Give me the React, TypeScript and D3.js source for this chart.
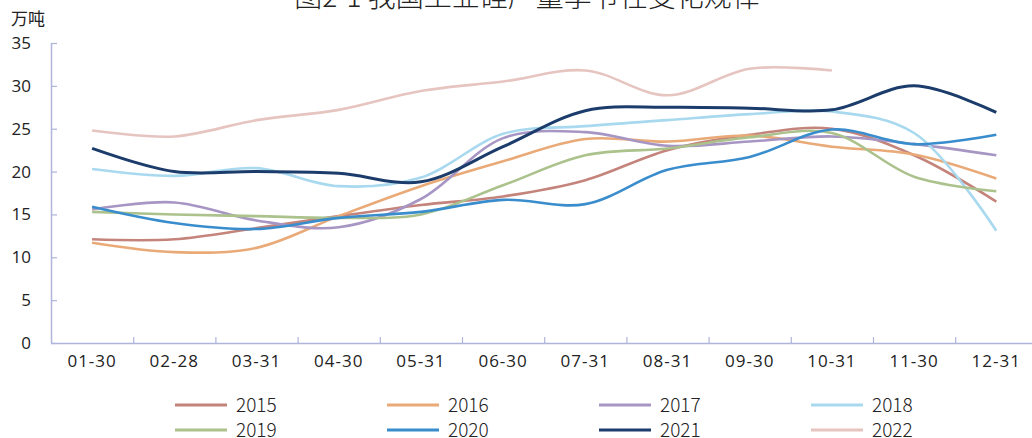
import * as d3 from "d3"

const categories = ["01-30", "02-28", "03-31", "04-30", "05-31", "06-30", "07-31", "08-31", "09-30", "10-31", "11-30", "12-31"]
const yTicks = [0, 5, 10, 15, 20, 25, 30, 35]
const years = ["2015", "2016", "2017", "2018", "2019", "2020", "2021", "2022"]
const colors = ["#c4847b", "#e9aa78", "#a796c4", "#a8d9ef", "#abc28c", "#3a8dcd", "#1c3d6c", "#e6c4c0"]

const v2015 = [12.1, 12.1, 13.4, 14.8, 16.1, 17.1, 19.0, 22.5, 24.3, 25.0, 21.9, 16.5]
const v2016 = [11.7, 10.6, 11.1, 14.8, 18.3, 21.2, 23.8, 23.5, 24.2, 22.9, 22.0, 19.2]
const v2017 = [15.6, 16.4, 14.3, 13.5, 16.8, 23.9, 24.6, 23.0, 23.5, 24.1, 23.2, 21.9]
const v2018 = [20.3, 19.5, 20.4, 18.3, 19.3, 24.4, 25.3, 26.0, 26.7, 27.0, 24.5, 13.1]
const v2019 = [15.3, 15.0, 14.8, 14.6, 15.0, 18.4, 21.9, 22.7, 24.0, 24.5, 19.4, 17.7]
const v2020 = [15.9, 14.0, 13.3, 14.6, 15.3, 16.7, 16.2, 20.2, 21.7, 24.9, 23.2, 24.3]
const v2021 = [22.7, 20.0, 20.0, 19.8, 18.8, 22.9, 27.1, 27.5, 27.4, 27.2, 30.0, 26.9]
const v2022 = [24.8, 24.1, 26.0, 27.2, 29.4, 30.5, 31.8, 28.9, 32.0, 31.8, null, null]

const series = [v2015, v2016, v2017, v2018, v2019, v2020, v2021, v2022]

const width = 1032
const height = 438
const cjk = "'Noto Sans CJK SC', 'Noto Sans', sans-serif"
const num = "'Open Sans', 'Noto Sans', sans-serif"
const axisColor = "#aeb4da"

export default function App() {
  const x = d3.scaleBand().domain(categories).range([51, 51 + 12 * 82.2]).padding(0)
  const y = d3.scaleLinear().domain([0, 35]).range([343, 43])
  const cx = (c: string) => (x(c) as number) + x.bandwidth() / 2

  const line = d3
    .line<number | null>()
    .defined((d) => d != null)
    .x((_, i) => cx(categories[i]))
    .y((d) => y(d as number))
    .curve(d3.curveCatmullRom.alpha(0.5))

  return (
    <svg width={width} height={height} style={{ position: "absolute", left: 0, top: 0, background: "#fff" }} fontFamily={cjk}>
      {/* 标题（上半部分被裁掉） */}
      <text x={527} y={7} textAnchor="middle" fontSize={28} fontWeight={300} fill="#222">图2-1 我国工业硅产量季节性变化规律</text>
      <text x={11} y={19.5} dy="0.35em" fontSize={17} fill="#222">万吨</text>

      {/* y轴 */}
      <line x1={51.5} x2={51.5} y1={y(35)} y2={343} stroke={axisColor} strokeWidth={1.5} />
      {yTicks.map((t) => (
        <g key={t}>
          <line x1={51} x2={57} y1={y(t) + 0.5} y2={y(t) + 0.5} stroke={axisColor} strokeWidth={1.2} />
          <text x={31} y={y(t)} dy="0.35em" textAnchor="end" fontSize={17} fontFamily={num} fill="#222">{t}</text>
        </g>
      ))}

      {/* x轴 */}
      <line x1={51} x2={width} y1={343.5} y2={343.5} stroke={axisColor} strokeWidth={1.5} />
      {categories.map((c, i) => (
        <g key={c}>
          {i > 0 && <line x1={(x(c) as number) + 0.5} x2={(x(c) as number) + 0.5} y1={337} y2={343} stroke={axisColor} strokeWidth={1.2} />}
          <text x={cx(c)} y={361} dy="0.35em" textAnchor="middle" fontSize={17} fontFamily={num} letterSpacing={1} fill="#222">{c}</text>
        </g>
      ))}

      {/* 折线 */}
      {series.map((s, i) => (
        <path key={years[i]} d={line(s) || ""} fill="none" stroke={colors[i]} strokeWidth={years[i] === "2021" ? 3 : 2.6} strokeLinejoin="round" />
      ))}

      {/* 图例 */}
      {years.map((yr, i) => {
        const col = i % 4
        const row = Math.floor(i / 4)
        const lx = 175 + col * 212
        const ly = 405 + row * 25
        return (
          <g key={yr}>
            <line x1={lx} x2={lx + 52} y1={ly} y2={ly} stroke={colors[i]} strokeWidth={3} />
            <text x={lx + 61} y={ly} dy="0.35em" fontSize={19} fontWeight={300} fill="#222">{yr}</text>
          </g>
        )
      })}
    </svg>
  )
}
